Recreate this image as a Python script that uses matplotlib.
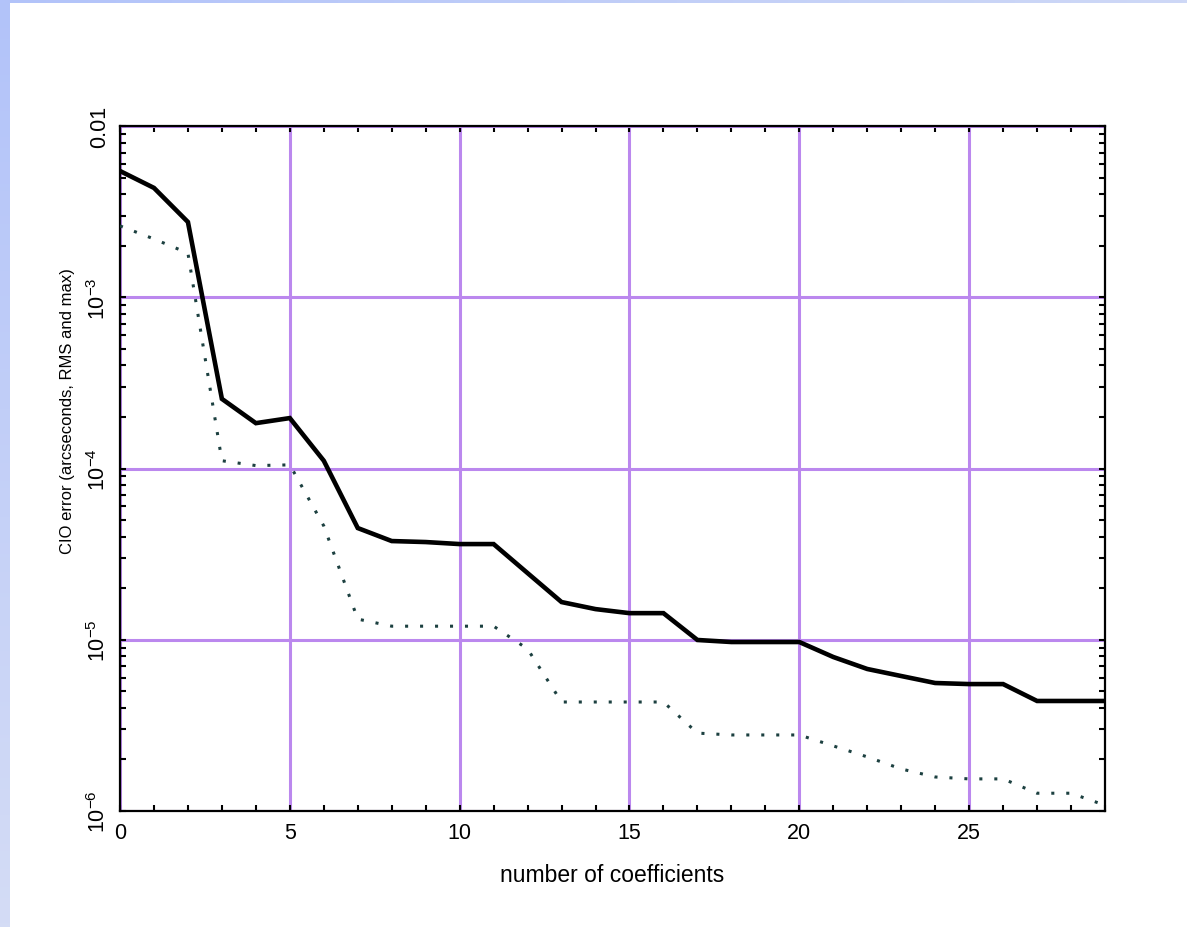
import numpy as np
import matplotlib
matplotlib.use("Agg")
import matplotlib.pyplot as plt
from matplotlib.ticker import MultipleLocator, FixedLocator, FixedFormatter, LogLocator, NullFormatter

plt.rcParams['font.family'] = ['Liberation Sans', 'DejaVu Sans']
plt.rcParams['mathtext.fontset'] = 'custom'
plt.rcParams['mathtext.rm'] = 'Liberation Sans'
plt.rcParams['mathtext.it'] = 'Liberation Sans'

# number of coefficients
ncoef = list(range(30))

# max error (solid line), arcseconds
err_max = [5.46e-3, 4.35e-3, 2.75e-3, 2.55e-4, 1.84e-4, 1.97e-4, 1.11e-4, 4.49e-5,
           3.77e-5, 3.72e-5, 3.62e-5, 3.62e-5, 2.45e-5, 1.66e-5, 1.51e-5, 1.43e-5,
           1.43e-5, 9.97e-6, 9.70e-6, 9.70e-6, 9.70e-6, 7.93e-6, 6.75e-6, 6.14e-6,
           5.59e-6, 5.51e-6, 5.51e-6, 4.39e-6, 4.39e-6, 4.39e-6]

# RMS error (dotted line), arcseconds
err_rms = [2.61e-3, 2.19e-3, 1.81e-3, 1.11e-4, 1.04e-4, 1.05e-4, 4.62e-5, 1.32e-5,
           1.20e-5, 1.20e-5, 1.20e-5, 1.20e-5, 8.83e-6, 4.33e-6, 4.33e-6, 4.33e-6,
           4.33e-6, 2.85e-6, 2.78e-6, 2.78e-6, 2.78e-6, 2.40e-6, 2.07e-6, 1.76e-6,
           1.58e-6, 1.54e-6, 1.54e-6, 1.27e-6, 1.27e-6, 1.08e-6]

ytick_vals = [1e-6, 1e-5, 1e-4, 1e-3, 1e-2]
ytick_text = ['$10^{-6}$', '$10^{-5}$', '$10^{-4}$', '$10^{-3}$', '0.01']

W, H = 1187, 928
fig = plt.figure(figsize=(W / 100, H / 100), dpi=100)
fig.patch.set_facecolor('white')

# slide border strips (light blue gradient)
left_strip = fig.add_axes([0, 0, 10 / W, 1])
grad = np.linspace(0, 1, 256).reshape(-1, 1)
c0 = np.array([0xb2, 0xc3, 0xfa]) / 255
c1 = np.array([0xd4, 0xdc, 0xf5]) / 255
img = c0 + (c1 - c0) * grad[:, :, None]
left_strip.imshow(img, aspect='auto', extent=[0, 1, 0, 1])
left_strip.axis('off')

top_strip = fig.add_axes([0, 1 - 4 / H, 1, 4 / H])
gradx = np.linspace(0, 1, 256).reshape(1, -1)
c2 = np.array([0xce, 0xd8, 0xf6]) / 255
img2 = c0 + (c2 - c0) * gradx[:, :, None]
top_strip.imshow(img2, aspect='auto', extent=[0, 1, 0, 1])
top_strip.axis('off')

ax = fig.add_axes([120 / W, 1 - 812 / H, (1105 - 120) / W, (812 - 127) / H])
ax.set_yscale('log')
ax.set_axisbelow(True)

ax.plot(ncoef, err_max, color='black', lw=3.3, solid_joinstyle='miter', zorder=3)
ax.plot(ncoef, err_rms, color='#1c4040', lw=2.2, linestyle=(0, (1.0, 3.9)),
        dash_capstyle='butt', zorder=3)

ax.set_xlim(0, 29)
ax.set_ylim(1e-6, 1e-2)

ax.xaxis.set_major_locator(MultipleLocator(5))
ax.xaxis.set_minor_locator(MultipleLocator(1))
ax.yaxis.set_major_locator(FixedLocator(ytick_vals))
ax.yaxis.set_major_formatter(FixedFormatter(ytick_text))
ax.yaxis.set_minor_locator(LogLocator(base=10, subs=np.arange(2, 10)))
ax.yaxis.set_minor_formatter(NullFormatter())

ax.tick_params(which='both', direction='in', top=True, right=True,
               length=4.5, width=1.5, color='black')
ax.tick_params(axis='x', labelsize=15.5, pad=8)
ax.tick_params(axis='y', labelsize=15.5, pad=7, labelrotation=90)
for lab in ax.get_yticklabels():
    lab.set_va('center')

ax.grid(True, which='major', color='#bb88ee', lw=2.2)

for sp in ax.spines.values():
    sp.set_linewidth(1.6)
    sp.set_color('black')

fig.text(612 / W, 1 - 876 / H, 'number of coefficients', fontsize=16.5,
         ha='center', va='center')
fig.text(68 / W, 1 - 411 / H, 'CIO error (arcseconds, RMS and max)', fontsize=12,
         rotation=90, ha='center', va='center')

fig.savefig('out.png', dpi=100)
